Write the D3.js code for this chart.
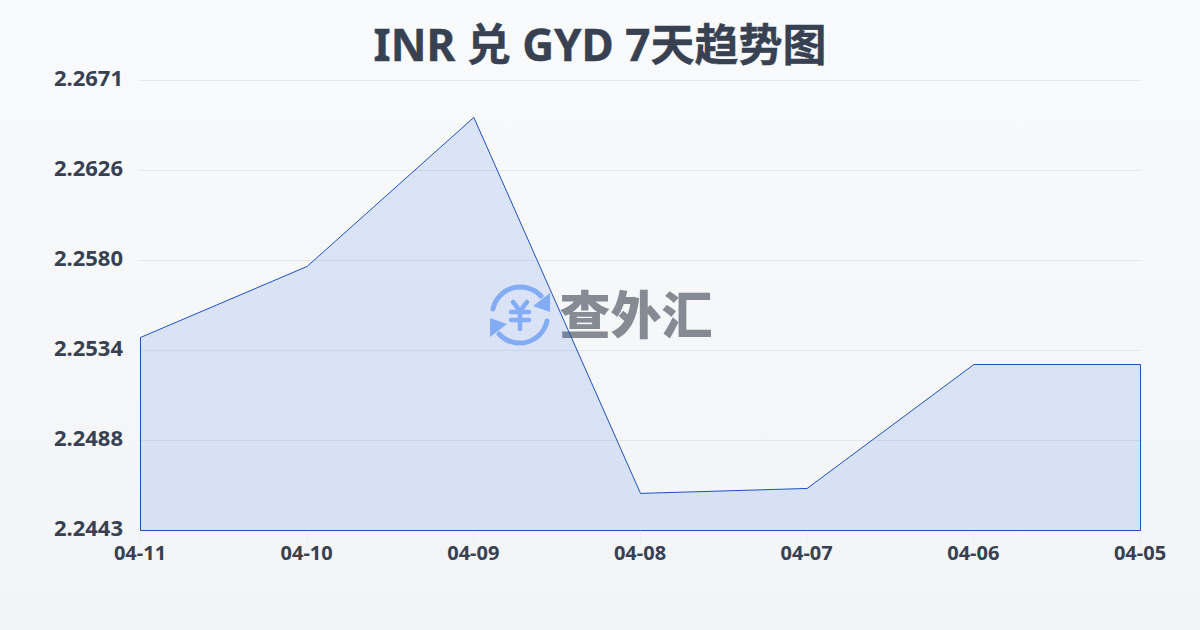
<!DOCTYPE html>
<html>
<head>
<meta charset="utf-8">
<script src="https://d3js.org/d3.v7.min.js"></script>
<style>
  html, body { margin: 0; padding: 0; }
  svg { display: block; }
  text { font-family: "Noto Sans", "Noto Sans CJK SC", sans-serif; }
</style>
</head>
<body>
<div id="chart"></div>
<script>
const dates = ["04-11", "04-10", "04-09", "04-08", "04-07", "04-06", "04-05"];
const rates = [2.25408, 2.25768, 2.26523, 2.24618, 2.24643, 2.25271, 2.25271];
const yTickLabels = ["2.2671", "2.2626", "2.2580", "2.2534", "2.2488", "2.2443"];
const yMin = 2.2443, yMax = 2.2671;

const width = 1200, height = 630;
const margin = { top: 80, right: 60, bottom: 100, left: 140 };

const svg = d3.select("#chart").append("svg")
  .attr("width", width)
  .attr("height", height);

const grad = svg.append("defs").append("linearGradient")
  .attr("id", "bg").attr("x1", 0).attr("y1", 0).attr("x2", 0).attr("y2", 1);
grad.append("stop").attr("offset", "0%").attr("stop-color", "#f8fafc");
grad.append("stop").attr("offset", "100%").attr("stop-color", "#f3f4f6");
svg.append("rect").attr("width", width).attr("height", height).attr("fill", "url(#bg)");

// title
svg.append("text")
  .attr("x", 600).attr("y", 61)
  .attr("text-anchor", "middle")
  .attr("font-size", 44).attr("font-weight", 700)
  .attr("fill", "#374151")
  .attr("stroke", "#374151").attr("stroke-width", 0.4)
  .text("INR 兑 GYD 7天趋势图");

const x = d3.scalePoint().domain(dates).range([margin.left, width - margin.right]);
const y = d3.scaleLinear().domain([yMin, yMax]).range([height - margin.bottom, margin.top]);
// tick labels are evenly spaced on the axis
const yTick = d3.scalePoint().domain(yTickLabels).range([margin.top, height - margin.bottom]);

// grid
svg.append("g").selectAll("line")
  .data(yTickLabels)
  .join("line")
  .attr("x1", margin.left).attr("x2", width - margin.right)
  .attr("y1", d => yTick(d) + 0.5).attr("y2", d => yTick(d) + 0.5)
  .attr("stroke", "#e5e7eb").attr("stroke-width", 1);

// faint x ticks
svg.append("g").selectAll("line")
  .data(dates)
  .join("line")
  .attr("x1", d => x(d) + 0.5).attr("x2", d => x(d) + 0.5)
  .attr("y1", height - margin.bottom).attr("y2", height - margin.bottom + 15)
  .attr("stroke", "#eceef1").attr("stroke-width", 1);

// watermark
const mark = svg.append("g").attr("transform", "translate(520,315)");
mark.append("path")
  .attr("d", "M-27,-6 A28,28 0 0 1 21,-19 M27,6 A28,28 0 0 1 -21,19")
  .attr("fill", "none").attr("stroke", "#93b8f8").attr("stroke-width", 5).attr("stroke-linecap", "round");
mark.append("path").attr("d", "M30,-22 L30,-3 L13,-9 Z").attr("fill", "#93b8f8");
mark.append("path").attr("d", "M-30,22 L-30,3 L-13,9 Z").attr("fill", "#93b8f8");
mark.append("path")
  .attr("d", "M-7,-13 L0,-4 L7,-13 M-9,-3 L9,-3 M-9,5 L9,5 M0,-4 L0,14")
  .attr("fill", "none").attr("stroke", "#93b8f8").attr("stroke-width", 4.5).attr("stroke-linecap", "round");
svg.append("text")
  .attr("x", 636).attr("y", 334)
  .attr("text-anchor", "middle")
  .attr("font-size", 51).attr("font-weight", 900)
  .style("font-family", '"Noto Sans CJK SC"')
  .attr("fill", "#858a93")
  .text("查外汇");

// area and line
const area = d3.area()
  .x((d, i) => x(dates[i]))
  .y0(y(yMin))
  .y1(d => y(d));
svg.append("path")
  .datum(rates)
  .attr("d", area)
  .attr("transform", "translate(0.5,0.5)")
  .attr("fill", "#2060e0").attr("fill-opacity", 0.13)
  .attr("stroke", "#1e50c0").attr("stroke-width", 1);

// y labels
svg.append("g").selectAll("text")
  .data(yTickLabels)
  .join("text")
  .attr("x", 123)
  .attr("y", d => yTick(d) - 2)
  .attr("dy", "0.35em")
  .attr("text-anchor", "end")
  .attr("font-size", 22).attr("font-weight", 700)
  .attr("fill", "#374151")
  .text(d => d);

// x labels
svg.append("g").selectAll("text")
  .data(dates)
  .join("text")
  .attr("x", d => x(d))
  .attr("y", 560)
  .attr("text-anchor", "middle")
  .attr("font-size", 20).attr("font-weight", 700)
  .attr("fill", "#374151")
  .text(d => d);
</script>
</body>
</html>
